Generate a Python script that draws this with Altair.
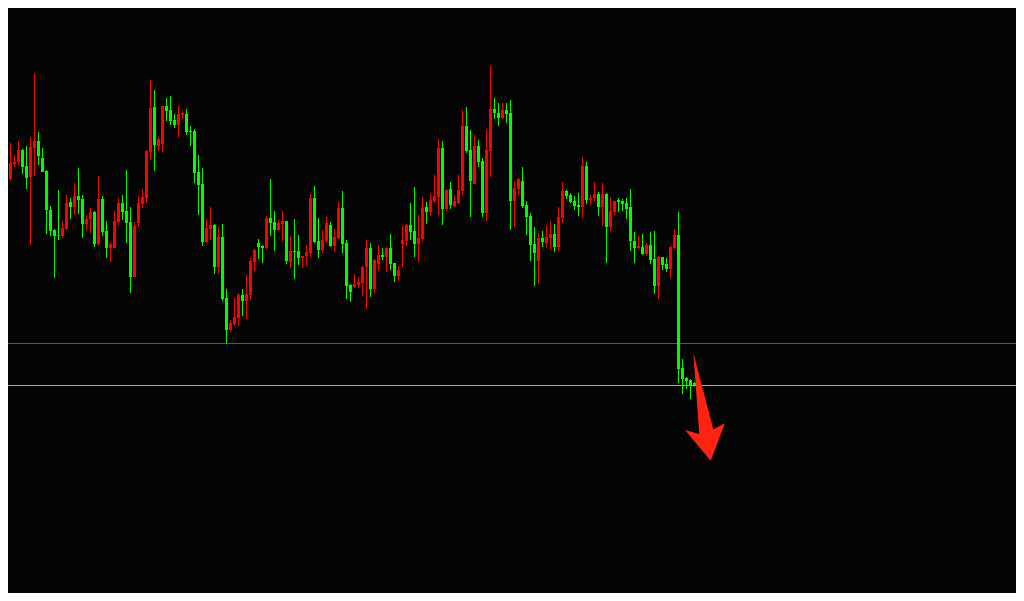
import altair as alt
import pandas as pd

# Candles (price in points), oldest -> newest
opens = [1742,1754,1643,1688,1694,1730,1682,1649,1736,1757,1706,1667,1550,1490,1475,1472,1493,1574,1559,1592,
         1583,1508,1523,1544,1448,1583,1487,1436,1436,1514,1571,1547,1514,1349,1511,1568,1586,1724,1859,1742,
         1748,1862,1850,1820,1805,1835,1838,1787,1787,1664,1628,1454,1493,1505,1379,1469,1286,1190,1208,1226,
         1295,1277,1295,1394,1451,1442,1436,1526,1514,1490,1508,1517,1394,1427,1427,1406,1412,1421,1586,1457,
         1430,1457,1505,1442,1466,1556,1451,1325,1319,1325,1331,1379,1436,1313,1388,1415,1409,1436,1391,1352,
         1448,1457,1505,1487,1448,1463,1559,1544,1577,1589,1736,1553,1613,1562,1571,1607,1802,1730,1628,1742,
         1697,1541,1727,1853,1841,1826,1850,1841,1577,1613,1637,1565,1532,1448,1397,1466,1451,1466,1478,1439,
         1526,1607,1595,1577,1565,1559,1682,1580,1586,1598,1559,1598,1499,1544,1580,1577,1571,1559,1457,1436,
         1439,1418,1445,1403,1322,1409,1388,1373,1436,1475,1076,1046,1040,1031]
highs = [1793,1760,1751,1715,1757,1734,1742,1769,1961,1784,1736,1670,1562,1493,1610,1517,1595,1586,1631,1676,
         1595,1535,1556,1547,1652,1592,1517,1454,1547,1586,1595,1670,1559,1514,1592,1613,1730,1940,1910,1769,
         1862,1886,1892,1838,1862,1847,1853,1802,1793,1715,1676,1523,1559,1508,1499,1508,1313,1220,1286,1301,
         1313,1355,1406,1433,1463,1445,1532,1643,1547,1520,1547,1517,1472,1523,1475,1412,1445,1598,1622,1526,
         1490,1529,1514,1493,1574,1607,1460,1328,1358,1349,1382,1460,1451,1403,1445,1436,1439,1478,1391,1382,
         1502,1508,1571,1619,1535,1589,1574,1598,1655,1763,1757,1613,1634,1595,1655,1850,1859,1790,1775,1760,
         1706,1790,1982,1886,1871,1871,1871,1880,1634,1646,1679,1577,1541,1499,1481,1487,1502,1517,1508,1559,
         1634,1610,1601,1592,1601,1709,1694,1595,1634,1604,1631,1601,1589,1577,1586,1583,1586,1613,1484,1472,
         1478,1451,1484,1487,1412,1409,1406,1442,1493,1544,1103,1049,1043,1034]
lows = [1718,1598,1638,1679,1682,1658,1613,1445,1652,1685,1664,1478,1472,1346,1460,1466,1490,1523,1535,1538,
        1466,1490,1481,1439,1442,1472,1406,1394,1436,1502,1520,1451,1301,1349,1499,1556,1571,1700,1667,1727,
        1724,1817,1805,1796,1769,1823,1775,1742,1631,1535,1442,1451,1460,1358,1358,1277,1150,1184,1202,1202,
        1232,1223,1280,1367,1403,1391,1433,1472,1427,1487,1457,1388,1376,1343,1385,1376,1382,1409,1451,1406,
        1421,1451,1439,1424,1463,1421,1283,1274,1316,1316,1292,1253,1289,1301,1367,1400,1364,1370,1334,1337,
        1379,1442,1460,1409,1394,1454,1508,1532,1571,1535,1505,1547,1553,1559,1568,1595,1721,1529,1628,1679,
        1529,1517,1649,1823,1802,1823,1811,1490,1499,1595,1556,1475,1397,1322,1328,1439,1436,1433,1424,1427,
        1511,1583,1571,1550,1532,1526,1568,1565,1577,1532,1502,1391,1487,1535,1544,1547,1523,1427,1391,1430,
        1415,1412,1388,1298,1283,1370,1364,1346,1433,1031,998,1013,983,1020]
closes = [1754,1643,1691,1694,1730,1679,1646,1739,1757,1712,1664,1550,1487,1472,1473,1496,1571,1559,1592,1580,
          1508,1523,1544,1448,1583,1484,1436,1448,1517,1571,1544,1511,1349,1502,1571,1589,1727,1856,1745,1763,
          1862,1847,1817,1805,1838,1841,1784,1784,1661,1625,1454,1496,1505,1379,1469,1283,1190,1211,1229,1295,
          1277,1298,1397,1430,1439,1436,1526,1511,1490,1511,1517,1397,1427,1424,1406,1412,1424,1586,1454,1430,
          1460,1511,1442,1469,1556,1448,1322,1304,1328,1334,1379,1436,1313,1400,1415,1409,1436,1388,1352,1370,
          1460,1505,1484,1448,1466,1556,1544,1580,1592,1736,1553,1610,1565,1577,1610,1802,1727,1637,1742,1694,
          1541,1730,1853,1841,1826,1850,1838,1577,1616,1643,1562,1529,1445,1421,1466,1454,1469,1478,1439,1529,
          1607,1592,1574,1562,1559,1682,1580,1586,1598,1559,1598,1499,1547,1577,1574,1568,1553,1457,1436,1442,
          1418,1445,1400,1322,1409,1385,1373,1439,1475,1073,1043,1037,1025,1025]

# Horizontal levels and arrow annotation
levels = [1149.5, 1023.5]
level_colors = ["#ff1010", "#a3a9b0"]
arrow_idx = [175.875]
arrow_price = [962]

rows = []
for i, (o, h, l, c) in enumerate(zip(opens, highs, lows, closes)):
    rows.append({"idx": i, "open": o, "high": h, "low": l, "close": c,
                 "b0": i - 0.375, "b1": i + 0.375,
                 "top": max(o, c), "bot": min(o, c),
                 "dir": "up" if c >= o else "down"})
df = pd.DataFrame(rows)

xs = alt.Scale(domain=[1.375, 253.375], nice=False, zero=False)
ys = alt.Scale(domain=[401, 2156], nice=False, zero=False)
col = alt.Color("dir:N", scale=alt.Scale(domain=["up", "down"], range=["#ff0000", "#00ff00"]), legend=None)

base = alt.Chart(df)
wicks = base.mark_rule(strokeWidth=1).encode(
    x=alt.X("idx:Q", scale=xs, axis=None),
    y=alt.Y("low:Q", scale=ys, axis=None),
    y2="high:Q",
    color=col,
)
bodies = base.mark_rect().encode(
    x=alt.X("b0:Q", scale=xs, axis=None),
    x2="b1:Q",
    y=alt.Y("bot:Q", scale=ys, axis=None),
    y2="top:Q",
    color=col,
)

lv = pd.DataFrame({"level": levels, "c": level_colors})
lines = alt.Chart(lv).mark_rule(strokeWidth=1).encode(
    y=alt.Y("level:Q", scale=ys, axis=None),
    color=alt.Color("c:N", scale=None, legend=None),
)

arrow_path = ("M-0.231,-0.969 L0.133,0.424 L0.345,0.315 L0.085,0.995 "
              "L-0.382,0.436 L-0.122,0.509 Z")
ar = pd.DataFrame({"idx": arrow_idx, "price": arrow_price})
arrow = alt.Chart(ar).mark_point(shape=arrow_path, size=12100, filled=True,
                                 color="#ff2314", opacity=1, strokeWidth=0).encode(
    x=alt.X("idx:Q", scale=xs, axis=None),
    y=alt.Y("price:Q", scale=ys, axis=None),
)

chart = alt.layer(lines, wicks, bodies, arrow).properties(
    width=1008, height=585,
    padding=0,
    autosize=alt.AutoSizeParams(type="none"),
    background="#050505",
).configure_view(strokeWidth=0, fill="#050505")

chart.save("out.html", embed_options={"renderer": "svg", "actions": False})
